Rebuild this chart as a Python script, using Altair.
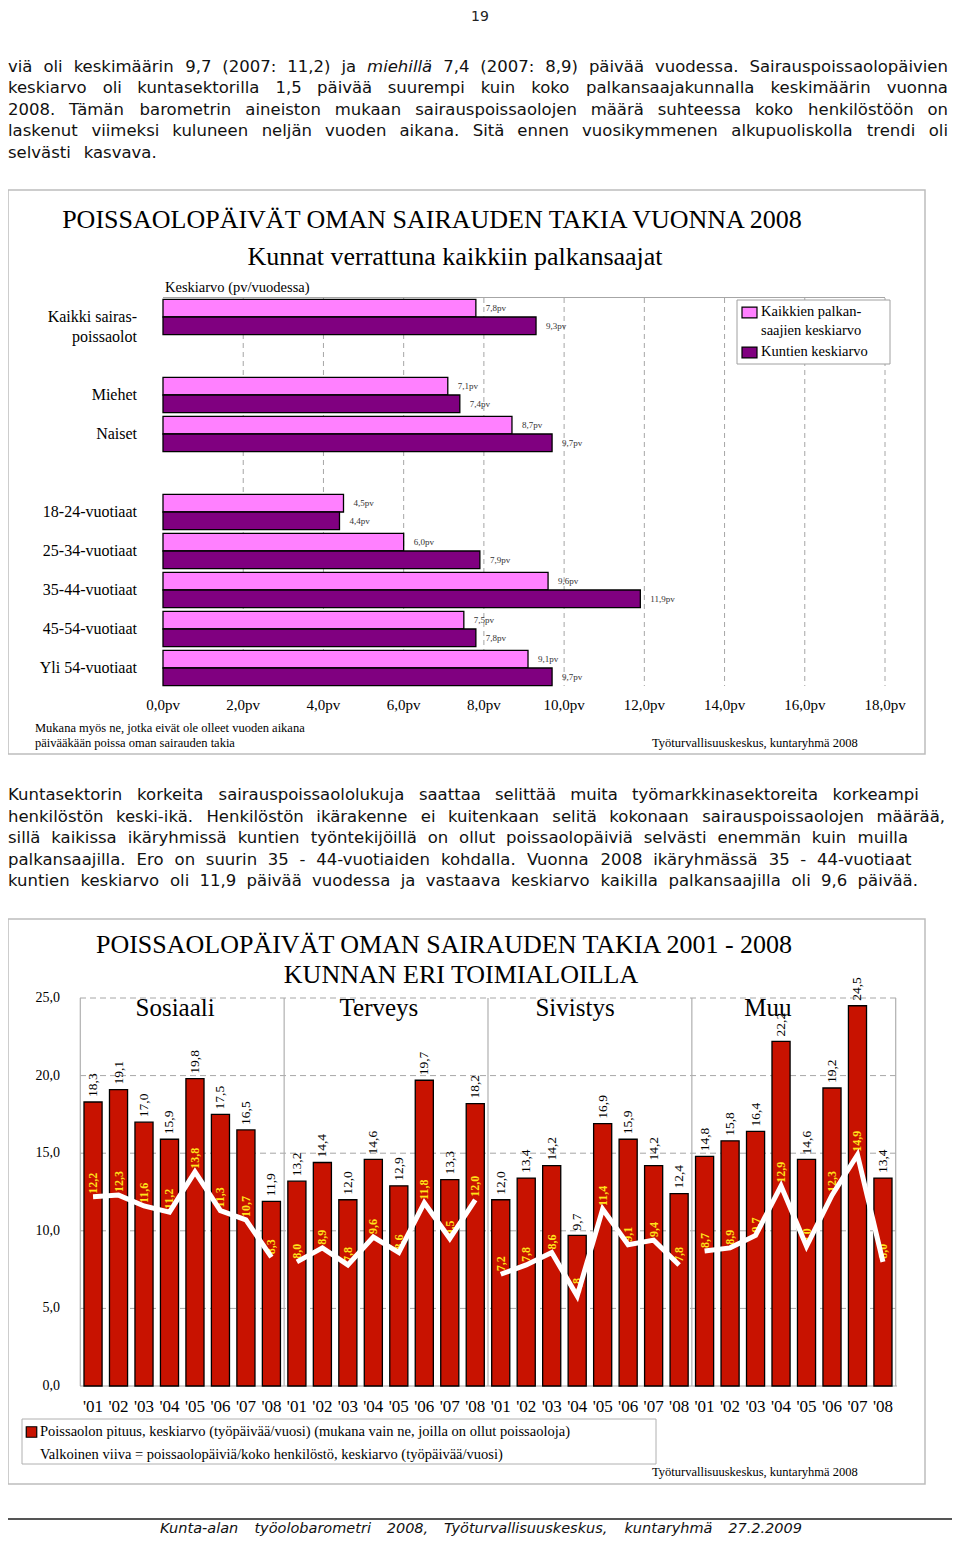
import altair as alt
import pandas as pd

# ------------------------------------------------------------------ texts
page_number = "19"
para1 = [
    "viä oli keskimäärin 9,7 (2007: 11,2) ja *miehillä* 7,4 (2007: 8,9) päivää vuodessa. Sairauspoissaolopäivien",
    "keskiarvo oli kuntasektorilla 1,5 päivää suurempi kuin koko palkansaajakunnalla keskimäärin vuonna",
    "2008. Tämän barometrin aineiston mukaan sairauspoissaolojen määrä suhteessa koko henkilöstöön on",
    "laskenut viimeksi kuluneen neljän vuoden aikana. Sitä ennen vuosikymmenen alkupuoliskolla trendi oli",
    "selvästi kasvava.",
]
para2 = [
    "Kuntasektorin korkeita sairauspoissaololukuja saattaa selittää muita työmarkkinasektoreita korkeampi",
    "henkilöstön keski-ikä. Henkilöstön ikärakenne ei kuitenkaan selitä kokonaan sairauspoissaolojen määrää,",
    "sillä kaikissa ikäryhmissä kuntien työntekijöillä on ollut poissaolopäiviä selvästi enemmän kuin muilla",
    "palkansaajilla. Ero on suurin 35 - 44-vuotiaiden kohdalla. Vuonna 2008 ikäryhmässä 35 - 44-vuotiaat",
    "kuntien keskiarvo oli 11,9 päivää vuodessa ja vastaava keskiarvo kaikilla palkansaajilla oli 9,6 päivää.",
]
footer_text = "Kunta-alan työolobarometri 2008, Työturvallisuuskeskus, kuntaryhmä 27.2.2009"

# ------------------------------------------------------------------ chart 1 data
title1 = "POISSAOLOPÄIVÄT OMAN SAIRAUDEN TAKIA VUONNA 2008"
subtitle1 = "Kunnat verrattuna kaikkiin palkansaajat"
axis_title1 = "Keskiarvo (pv/vuodessa)"
note1 = ["Mukana myös ne, jotka eivät ole olleet vuoden aikana",
         "päivääkään poissa oman sairauden takia"]
source_text = "Työturvallisuuskeskus, kuntaryhmä 2008"
rows1_domain = ["Kaikki sairas-|poissaolot", " ", "Miehet", "Naiset", "  ",
                "18-24-vuotiaat", "25-34-vuotiaat", "35-44-vuotiaat",
                "45-54-vuotiaat", "Yli 54-vuotiaat"]
bar_groups1 = ["Kaikki sairas-|poissaolot", "Miehet", "Naiset",
               "18-24-vuotiaat", "25-34-vuotiaat", "35-44-vuotiaat",
               "45-54-vuotiaat", "Yli 54-vuotiaat"]
series1 = ["Kaikkien palkansaajien keskiarvo", "Kuntien keskiarvo"]
series1_legend = ["Kaikkien palkan-|saajien keskiarvo", "Kuntien keskiarvo"]
all_employees = [7.8, 7.1, 8.7, 4.5, 6.0, 9.6, 7.5, 9.1]
municipalities = [9.3, 7.4, 9.7, 4.4, 7.9, 11.9, 7.8, 9.7]
x_ticks1 = [0, 2, 4, 6, 8, 10, 12, 14, 16, 18]

# ------------------------------------------------------------------ chart 2 data
title2 = ["POISSAOLOPÄIVÄT OMAN SAIRAUDEN TAKIA 2001 - 2008", "KUNNAN ERI TOIMIALOILLA"]
sectors = ["Sosiaali", "Terveys", "Sivistys", "Muu"]
years = ["'01", "'02", "'03", "'04", "'05", "'06", "'07", "'08"]
duration = {
    "Sosiaali": [18.3, 19.1, 17.0, 15.9, 19.8, 17.5, 16.5, 11.9],
    "Terveys": [13.2, 14.4, 12.0, 14.6, 12.9, 19.7, 13.3, 18.2],
    "Sivistys": [12.0, 13.4, 14.2, 9.7, 16.9, 15.9, 14.2, 12.4],
    "Muu": [14.8, 15.8, 16.4, 22.2, 14.6, 19.2, 24.5, 13.4],
}
per_staff = {
    "Sosiaali": [12.2, 12.3, 11.6, 11.2, 13.8, 11.3, 10.7, 8.3],
    "Terveys": [8.0, 8.9, 7.8, 9.6, 8.6, 11.8, 9.5, 12.0],
    "Sivistys": [7.2, 7.8, 8.6, 5.8, 11.4, 9.1, 9.4, 7.8],
    "Muu": [8.7, 8.9, 9.7, 12.9, 9.0, 12.3, 14.9, 8.0],
}
y_ticks2 = [0, 5, 10, 15, 20, 25]
legend2 = ["Poissaolon pituus, keskiarvo  (työpäivää/vuosi) (mukana vain ne, joilla on ollut poissaoloja)",
           "Valkoinen viiva = poissaolopäiviä/koko henkilöstö, keskiarvo (työpäivää/vuosi)"]

# ------------------------------------------------------------------ styles / layout
W, H = 944, 1530
SERIF = "Liberation Serif"
SANS = "DejaVu Sans"
PINK, PURPLE = "#FF80FF", "#800080"
RED, YELLOW = "#C81200", "#FFE41A"
GRID, FRAME = "#A6A6A6", "#BDBDBD"
section_label_pos = [0.465, 1.465, 2.427, 3.373]   # where the sector names sit (in group units)


def P(v):
    """page pixel -> chart pixel (page has 8px margin)"""
    return v - 8


def fmt(v, suffix=""):
    return f"{v:.1f}".replace(".", ",") + suffix


ONE = pd.DataFrame({"t": [""]})
layers = []


def text(t, x, y, size, font=SERIF, align="left", baseline="middle", color="black",
         style="normal", weight="normal"):
    return alt.Chart(pd.DataFrame({"t": [t]})).mark_text(
        align=align, baseline=baseline, font=font, fontSize=size, color=color,
        fontStyle=style, fontWeight=weight
    ).encode(x=alt.value(P(x)), y=alt.value(P(y)), text="t:N")


def rect(x0, y0, x1, y1, stroke, sw=1.0, fill="white", fo=1.0):
    return alt.Chart(ONE).mark_rect(fill=fill, fillOpacity=fo, stroke=stroke, strokeWidth=sw).encode(
        x=alt.value(P(x0)), x2=alt.value(P(x1)), y=alt.value(P(y0)), y2=alt.value(P(y1)))


def hline(x0, x1, y, color, sw=1.0, dash=None):
    kw = dict(color=color, strokeWidth=sw)
    if dash:
        kw["strokeDash"] = dash
    return alt.Chart(ONE).mark_rule(**kw).encode(
        x=alt.value(P(x0)), x2=alt.value(P(x1)), y=alt.value(P(y)))


# ---- justified word layout for running text (DejaVu Sans advance widths, em)
DV = {" ": .318, ",": .318, ".": .318, "-": .361, ":": .337, "(": .390, ")": .390, "/": .337,
      "a": .613, "b": .635, "c": .550, "d": .635, "e": .615, "f": .352, "g": .635, "h": .634,
      "i": .278, "j": .278, "k": .579, "l": .278, "m": .974, "n": .634, "o": .612, "p": .635,
      "r": .411, "s": .521, "t": .392, "u": .634, "v": .592, "y": .592, "ä": .613, "ö": .612,
      "A": .684, "E": .632, "H": .752, "K": .656, "S": .635, "T": .611, "V": .684}
for d in "0123456789":
    DV[d] = .636


def wwidth(s, fs):
    return sum(DV.get(c, .6) for c in s) * fs


word_rows = []
PFS = 16.5


def place(line, y, left, right, fs=PFS, italic_all=False, base="middle"):
    words = line.split(" ")
    starts, pos = [], 0.0
    clean = []
    for w in words:
        it = italic_all or (w.startswith("*") and w.endswith("*"))
        w2 = w.strip("*")
        clean.append((w2, it))
        starts.append(pos)
        pos += wwidth(w2, fs) + DV[" "] * fs
    natural = starts[-1] + wwidth(clean[-1][0], fs)
    gaps = max(len(words) - 1, 1)
    extra = max(((right - left) - natural) / gaps, -2.0)
    for k, ((w2, it), s) in enumerate(zip(clean, starts)):
        word_rows.append(dict(w=w2, x=P(left + s + extra * k), y=P(y), it=it, fs=fs, base=base))


para1_y = [67, 88, 110, 131, 153]
para1_right = [948, 948, 948, 948, 157]
para2_y = [795, 817, 838, 860, 881]
para2_right = [920, 945, 908, 912, 918]
for ln, yy, rr in zip(para1, para1_y, para1_right):
    place(ln, yy, 8, rr)
for ln, yy, rr in zip(para2, para2_y, para2_right):
    place(ln, yy, 8, rr)
place(footer_text, 1533, 160, 802, fs=14.5, italic_all=True, base="alphabetic")
words = pd.DataFrame(word_rows)

# ================================================================== frames
layers.append(rect(8, 190, 925, 754, FRAME, 1.5, fo=0))
layers.append(rect(8, 919, 925, 1484, FRAME, 1.5, fo=0))

# ================================================================== chart 1
rows = []
for g, a, m in zip(bar_groups1, all_employees, municipalities):
    rows.append(dict(cat=g, series=series1[0], value=a))
    rows.append(dict(cat=g, series=series1[1], value=m))
df1 = pd.DataFrame(rows)
df1["label"] = df1["value"].map(lambda v: fmt(v, "pv"))

x1s = alt.Scale(domain=[0, 18], range=[P(163), P(885)], nice=False, zero=False)
y1s = alt.Scale(domain=rows1_domain, range=[P(297.5), P(687.5)], paddingInner=0.1, paddingOuter=0.05)
yo1 = alt.YOffset("series:N", scale=alt.Scale(domain=series1, paddingInner=0, paddingOuter=0))

ticks1 = pd.DataFrame({"v": x_ticks1, "lab": [fmt(v, "pv") for v in x_ticks1]})
layers.append(alt.Chart(ticks1[ticks1.v > 0]).mark_rule(color=GRID, strokeDash=[5, 4], strokeWidth=1).encode(
    x=alt.X("v:Q", scale=x1s, axis=None), y=alt.value(P(298)), y2=alt.value(P(686))))
layers.append(hline(163, 885, 297.5, GRID, 1))

layers.append(alt.Chart(df1).mark_bar(stroke="black", strokeWidth=1.3).encode(
    x=alt.X("value:Q", scale=x1s, axis=None),
    y=alt.Y("cat:N", scale=y1s, axis=None),
    yOffset=yo1,
    color=alt.Color("series:N", scale=alt.Scale(domain=series1, range=[PINK, PURPLE]), legend=None)))
for sname, dy in zip(series1, [-8.8, 8.8]):
    layers.append(alt.Chart(df1[df1.series == sname]).mark_text(
        align="left", baseline="middle", dx=10, dy=dy, font=SERIF, fontSize=9, color="#333333").encode(
        x=alt.X("value:Q", scale=x1s, axis=None),
        y=alt.Y("cat:N", scale=y1s, axis=None, bandPosition=0.5),
        text="label:N"))

cats1 = pd.DataFrame({"cat": rows1_domain})
layers.append(alt.Chart(cats1).mark_text(align="right", baseline="middle", lineBreak="|", lineHeight=20,
                                          font=SERIF, fontSize=16, color="black").encode(
    x=alt.value(P(137)), y=alt.Y("cat:N", scale=y1s, axis=None, bandPosition=0.5), text="cat:N"))

layers.append(alt.Chart(ticks1).mark_text(align="center", baseline="middle", font=SERIF, fontSize=15).encode(
    x=alt.X("v:Q", scale=x1s, axis=None), y=alt.value(P(705)), text="lab:N"))

# legend 1
layers.append(rect(737, 300, 890, 364, "#A0A0A0", 1))
leg1 = pd.DataFrame({"series": series1, "lab": series1_legend})
leg_y = alt.Y("series:N", scale=alt.Scale(type="point", domain=series1, range=[P(312.5), P(352.5)], padding=0),
              axis=None)
layers.append(alt.Chart(leg1).mark_point(shape="M-1,-0.72L1,-0.72L1,0.72L-1,0.72Z", size=225, filled=True,
                                         stroke="black", strokeWidth=1.2, opacity=1).encode(
    x=alt.value(P(749.5)), y=leg_y,
    color=alt.Color("series:N", scale=alt.Scale(domain=series1, range=[PINK, PURPLE]), legend=None)))
layers.append(alt.Chart(leg1).mark_text(align="left", baseline="top", dy=-8, lineBreak="|", lineHeight=19,
                                        font=SERIF, fontSize=14.5, color="black").encode(
    x=alt.value(P(761)), y=leg_y, text="lab:N"))

layers.append(text(title1, 432, 220, 26, align="center"))
layers.append(text(subtitle1, 455, 257, 26, align="center"))
layers.append(text(axis_title1, 165, 288, 14.5))
layers.append(text(note1[0], 35, 728, 12.5))
layers.append(text(note1[1], 35, 743, 12.5))
layers.append(text(source_text, 652, 743, 12.5))

# ================================================================== chart 2
rows = []
i = 0
for s in sectors:
    for yr, b, l in zip(years, duration[s], per_staff[s]):
        rows.append(dict(sector=s, year=yr, id=f"{s} {yr}", bar=b, line=l, idx=i))
        i += 1
df2 = pd.DataFrame(rows)
df2["bar_label"] = df2["bar"].map(fmt)
df2["line_label"] = df2["line"].map(fmt)
ids = list(df2["id"])

x2s = alt.Scale(type="band", domain=ids, range=[P(80.3), P(895.7)], paddingInner=0.29, paddingOuter=0.145)
y2s = alt.Scale(domain=[0, 25], range=[P(1386), P(998)], nice=False, zero=True)
gs = alt.Scale(domain=[0, 4], range=[P(80.3), P(895.7)], nice=False, zero=False)

yt2 = pd.DataFrame({"v": y_ticks2, "lab": [fmt(v) for v in y_ticks2]})
layers.append(alt.Chart(yt2[yt2.v > 0]).mark_rule(color=GRID, strokeDash=[6, 4], strokeWidth=1).encode(
    x=alt.value(P(80)), x2=alt.value(P(897)), y=alt.Y("v:Q", scale=y2s, axis=None)))
layers.append(alt.Chart(yt2[yt2.v == 0]).mark_rule(color=GRID, strokeWidth=1).encode(
    x=alt.value(P(80)), x2=alt.value(P(897)), y=alt.Y("v:Q", scale=y2s, axis=None)))
grp = pd.DataFrame({"g": [0, 1, 2, 3, 4]})
layers.append(alt.Chart(grp).mark_rule(color="#B0B0B0", strokeWidth=1.2).encode(
    x=alt.X("g:Q", scale=gs, axis=None), y=alt.value(P(998)), y2=alt.value(P(1386))))

layers.append(alt.Chart(df2).mark_bar(color=RED, stroke="black", strokeWidth=1.3).encode(
    x=alt.X("id:N", scale=x2s, axis=None),
    y=alt.Y("bar:Q", scale=y2s, axis=None)))
layers.append(alt.Chart(df2).mark_text(angle=270, align="left", baseline="middle", dx=3, font=SERIF,
                                        fontSize=12, fontWeight="bold", color=YELLOW).encode(
    x=alt.X("id:N", scale=x2s, axis=None, bandPosition=0.5),
    y=alt.Y("line:Q", scale=y2s, axis=None), text="line_label:N"))
layers.append(alt.Chart(df2).mark_line(color="white", strokeWidth=5, strokeJoin="miter").encode(
    x=alt.X("id:N", scale=x2s, axis=None, bandPosition=0.5),
    y=alt.Y("line:Q", scale=y2s, axis=None),
    detail="sector:N", order="idx:Q"))
layers.append(alt.Chart(df2).mark_text(angle=270, align="left", baseline="middle", dx=5, font=SERIF,
                                        fontSize=13.5, color="black").encode(
    x=alt.X("id:N", scale=x2s, axis=None, bandPosition=0.5),
    y=alt.Y("bar:Q", scale=y2s, axis=None), text="bar_label:N"))

layers.append(alt.Chart(df2).mark_text(align="center", baseline="middle", font=SERIF, fontSize=17).encode(
    x=alt.X("id:N", scale=x2s, axis=None, bandPosition=0.5), y=alt.value(P(1407)), text="year:N"))
layers.append(alt.Chart(yt2).mark_text(align="right", baseline="middle", font=SERIF, fontSize=14).encode(
    x=alt.value(P(60)), y=alt.Y("v:Q", scale=y2s, axis=None), text="lab:N"))
sec = pd.DataFrame({"g": section_label_pos, "name": sectors})
layers.append(alt.Chart(sec).mark_text(align="center", baseline="middle", font=SERIF, fontSize=25).encode(
    x=alt.X("g:Q", scale=gs, axis=None), y=alt.value(P(1008)), text="name:N"))

layers.append(text(title2[0], 444, 945, 26, align="center"))
layers.append(text(title2[1], 461, 975, 26, align="center"))

layers.append(rect(22, 1419, 656, 1464, "#B0B0B0", 1))
layers.append(alt.Chart(ONE).mark_square(size=110, color=RED, stroke="black", strokeWidth=1.2, opacity=1).encode(
    x=alt.value(P(31.5)), y=alt.value(P(1432))))
layers.append(text(legend2[0], 40, 1432, 14.5))
layers.append(text(legend2[1], 40, 1455, 14.5))
layers.append(text(source_text, 652, 1472, 12.5))

# ================================================================== page text
layers.append(text(page_number, 480, 17, 14, font=SANS, align="center", color="#222222"))
groups = words.groupby(["it", "fs", "base"])
for (it, fsz, base), sub in groups:
    layers.append(alt.Chart(sub[["w", "x", "y"]]).mark_text(
        align="left", baseline=base, font=SANS, fontSize=float(fsz),
        fontStyle="italic" if it else "normal", color="#111111").encode(
        x=alt.X("x:Q", scale=None, axis=None), y=alt.Y("y:Q", scale=None, axis=None), text="w:N"))
layers.append(hline(0, 960, 1519, "#555555", 2))

chart = alt.layer(*layers).properties(
    width=W, height=H, padding=0, autosize=alt.AutoSizeParams(type="none")
).resolve_scale(
    x="independent", y="independent", color="independent", yOffset="independent"
).configure_view(stroke=None)

chart.save("out.html", embed_options={"renderer": "svg", "actions": False})
